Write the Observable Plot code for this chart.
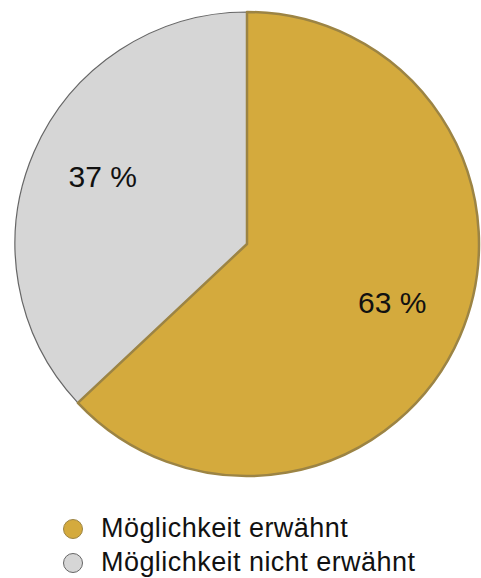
<!DOCTYPE html>
<html><head><meta charset="utf-8">
<script src="https://cdn.jsdelivr.net/npm/d3@7"></script>
<script src="https://cdn.jsdelivr.net/npm/@observablehq/plot@0.6"></script>
<style>
body{margin:0;background:#fff;font-family:"Liberation Sans",Arial,sans-serif;overflow:hidden;}
#legend{position:absolute;left:63px;top:511px;font-size:27px;letter-spacing:0.45px;color:#111;line-height:34px;}
.item{display:flex;align-items:center;height:34px;}
.sw{width:20px;height:20px;border-radius:50%;margin-right:18px;box-sizing:border-box;flex:none;margin-top:2px;}
</style></head><body>
<div id="chart"></div>
<div id="legend"></div>
<script>
const categories = ["Möglichkeit erwähnt", "Möglichkeit nicht erwähnt"];
const values = [63, 37];
const labels = ["63 %", "37 %"];
const fills = ["#D4AA3D", "#D6D6D6"];
const strokes = ["#9C8444", "#666666"];

const pie = d3.pie().sort(null).value(d => d.value)(categories.map((c, i) => ({category: c, value: values[i], label: labels[i]})));
const labelR = 0.68;
const slices = pie.map((p, i) => {
  const mid = (p.startAngle + p.endAngle) / 2;
  return {...p.data, startAngle: p.startAngle, endAngle: p.endAngle, i,
    lx: labelR * Math.sin(mid), ly: labelR * Math.cos(mid)};
});

const pieMark = (index, scales) => {
  const cx = scales.x(0), cy = scales.y(0);
  const r = Math.abs(scales.x(1) - scales.x(0));
  const g = d3.create("svg:g").attr("transform", `translate(${cx},${cy})`);
  const arc = d3.arc().innerRadius(0).outerRadius(r);
  [1, 0].forEach(i => {
    const s = slices[i];
    g.append("path").attr("d", arc(s)).attr("fill", fills[i])
      .attr("stroke", strokes[i]).attr("stroke-width", i === 0 ? 2.5 : 1.2)
      .attr("stroke-linejoin", "round");
  });
  return g.node();
};

const chart = Plot.plot({
  width: 481, height: 490,
  margin: 0,
  x: {domain: [-1, 1], range: [15, 479], axis: null},
  y: {domain: [-1, 1], range: [476, 12], axis: null},
  marks: [
    pieMark,
    Plot.text(slices, {x: "lx", y: "ly", text: "label", fontSize: 30, dy: -4, fill: "#111", fontFamily: "Liberation Sans, Arial, sans-serif"})
  ]
});
document.getElementById("chart").appendChild(chart);

const leg = document.getElementById("legend");
categories.forEach((c, i) => {
  const d = document.createElement("div"); d.className = "item";
  const sw = document.createElement("span"); sw.className = "sw";
  sw.style.background = fills[i]; sw.style.border = `1.5px solid ${strokes[i]}`;
  const t = document.createElement("span"); t.textContent = c;
  d.appendChild(sw); d.appendChild(t); leg.appendChild(d);
});
</script></body></html>
